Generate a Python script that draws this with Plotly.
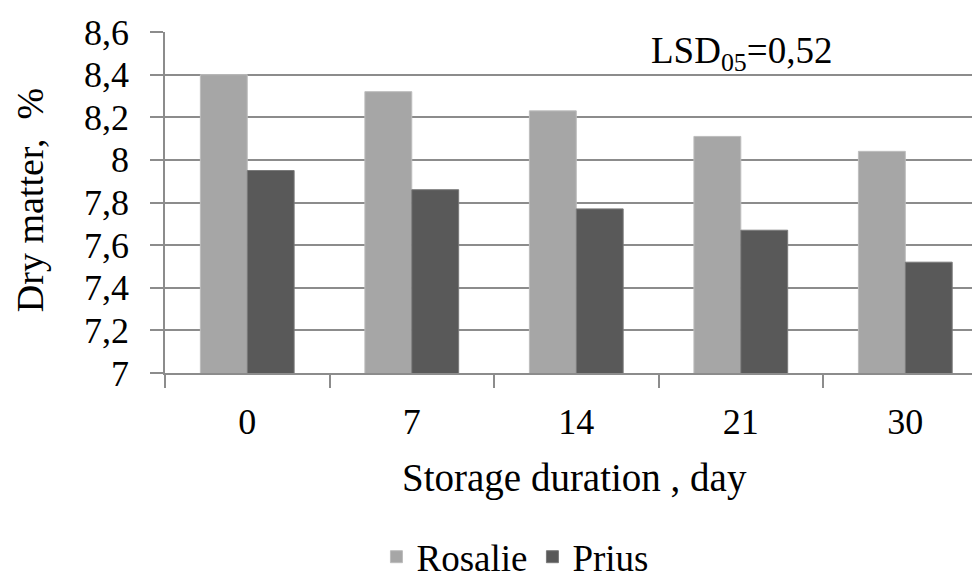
import plotly.graph_objects as go

categories = ["0", "7", "14", "21", "30"]
rosalie = [8.40, 8.32, 8.23, 8.11, 8.04]
prius = [7.95, 7.86, 7.77, 7.67, 7.52]
y_ticks = [7, 7.2, 7.4, 7.6, 7.8, 8, 8.2, 8.4, 8.6]

FONT = "Liberation Serif, Times New Roman, serif"
GRID = "#8c8c8c"

fig = go.Figure()
fig.add_trace(go.Bar(name="Rosalie", x=categories, y=rosalie,
                     marker=dict(color="#a6a6a6", line=dict(color="#bdbdbd", width=1))))
fig.add_trace(go.Bar(name="Prius", x=categories, y=prius,
                     marker=dict(color="#595959", line=dict(color="#7a7a7a", width=1))))

# page has an 8px body margin, so the figure is shifted by (8, 8)
fig.update_layout(
    width=980, height=579,
    margin=dict(l=157, r=8, t=24, b=214, autoexpand=False),
    paper_bgcolor="white", plot_bgcolor="white",
    barmode="group", bargap=0.43, bargroupgap=0,
    separators=",.",
    font=dict(family=FONT, size=36, color="black"),
    showlegend=True,
    legend=dict(orientation="h", x=0.43, xanchor="center", y=-0.54, yanchor="middle",
                font=dict(family=FONT, size=37, color="black"), itemwidth=30,
                tracegroupgap=0, bgcolor="rgba(0,0,0,0)"),
    xaxis=dict(
        range=[-0.5, 4.454], showgrid=False, showline=True, linecolor=GRID, linewidth=1.5,
        ticks="outside", tickson="boundaries", ticklen=13, tickcolor=GRID, tickwidth=1.5,
        ticklabelstandoff=16, automargin=False,
        tickfont=dict(family=FONT, size=36, color="black"),
    ),
    yaxis=dict(
        range=[7, 8.6], tickvals=y_ticks, showgrid=True, gridcolor=GRID, gridwidth=1.5,
        showline=True, linecolor=GRID, linewidth=1.5, zeroline=False,
        ticks="outside", ticklen=13, tickcolor=GRID, tickwidth=1.5,
        ticklabelstandoff=14, automargin=False,
        tickfont=dict(family=FONT, size=36, color="black"),
    ),
    annotations=[
        dict(text="LSD<sub>05</sub>=0,52", xref="paper", yref="paper", x=0.707, y=0.938,
             xanchor="center", yanchor="middle", showarrow=False,
             font=dict(family=FONT, size=37, color="black")),
        dict(text="Storage duration , day", xref="paper", yref="paper", x=0.502, y=-0.308,
             xanchor="center", yanchor="middle", showarrow=False,
             font=dict(family=FONT, size=39, color="black")),
        dict(text="Dry matter,  %", xref="paper", yref="paper", x=-0.1656, y=0.507,
             xanchor="center", yanchor="middle", showarrow=False, textangle=-90,
             font=dict(family=FONT, size=38, color="black")),
    ],
)

fig.write_html("out.html")
